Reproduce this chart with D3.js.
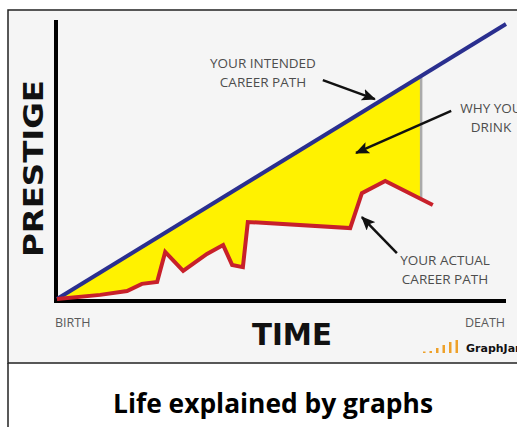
<!DOCTYPE html>
<html>
  <head>
    <title>life explained by graphs</title>
    <meta charset="utf-8">
    <script src="https://d3js.org/d3.v7.min.js"></script>
    <style type="text/css">
      body { margin: 0; background: #fff; }
      #chart text.note {
        fill: #4d4d4d;
        font: 13.5px "Open Sans", sans-serif;
        text-anchor: middle;
      }
      #chart text.tick {
        fill: #5a5a5a;
        font: 12.5px "Open Sans", sans-serif;
      }
    </style>
  </head>
  <body>
    <svg id="chart"></svg>
    <script>
      // time 0 = birth, 100 = death ; prestige 0..100
      var intendedTime = [0, 100];
      var intendedPrestige = [0, 100];
      var actualTime = [0, 9.6, 15.6, 18.9, 22.3, 24.1, 28.1, 33.4, 37.0, 39.0, 41.4, 42.5, 65.3, 67.9, 73.1, 83.7];
      var actualPrestige = [0, 1.5, 2.9, 5.5, 6.2, 17.1, 10.2, 16.4, 19.6, 12.4, 11.6, 28.0, 25.8, 38.5, 42.9, 34.2];
      var gapEnd = 81.1; // where the yellow "why you drink" area stops
      var axisLabels = ["BIRTH", "DEATH"];

      var width = 517, height = 427;
      var svg = d3.select("#chart").attr("width", width).attr("height", height);

      var x = d3.scaleLinear().domain([0, 100]).range([57, 506]);
      var y = d3.scaleLinear().domain([0, 100]).range([299, 24]);

      // picture frame + caption box
      svg.append("rect").attr("x", 8).attr("y", 10).attr("width", 520).attr("height", 353)
          .attr("fill", "#f5f5f5").attr("stroke", "#222").attr("stroke-width", 1.5);
      svg.append("line").attr("x1", 8).attr("x2", 8).attr("y1", 363).attr("y2", height)
          .attr("stroke", "#222").attr("stroke-width", 1.5);

      var intended = intendedTime.map(function(t, i) { return [t, intendedPrestige[i]]; });
      var actual = actualTime.map(function(t, i) { return [t, actualPrestige[i]]; });

      // yellow gap between plan and reality
      svg.append("clipPath").attr("id", "gapclip")
        .append("rect").attr("x", 0).attr("y", 0).attr("width", x(gapEnd)).attr("height", height);

      var area = d3.area()
          .x(function(d) { return x(d[0]); })
          .y0(function(d) { return y(d[1]); })
          .y1(function(d) { return y(d[0]); }); // intended line is prestige = time
      svg.append("path").datum(actual.concat([[100, actual[actual.length - 1][1]]]))
          .attr("d", area)
          .attr("clip-path", "url(#gapclip)")
          .attr("fill", "#fff200");

      svg.append("line")
          .attr("x1", x(gapEnd)).attr("x2", x(gapEnd))
          .attr("y1", y(gapEnd)).attr("y2", y(36))
          .attr("stroke", "#aaa").attr("stroke-width", 2.5);

      // axes
      svg.append("line").attr("x1", x(0) - 1).attr("x2", x(0) - 1).attr("y1", y(0) + 4).attr("y2", y(101.5))
          .attr("stroke", "#000").attr("stroke-width", 4);
      svg.append("line").attr("x1", x(0) - 3).attr("x2", x(100)).attr("y1", y(0) + 2).attr("y2", y(0) + 2)
          .attr("stroke", "#000").attr("stroke-width", 4);

      var line = d3.line().x(function(d) { return x(d[0]); }).y(function(d) { return y(d[1]); });

      svg.append("path").datum(intended).attr("d", line)
          .attr("fill", "none").attr("stroke", "#2a2f8f").attr("stroke-width", 4);
      svg.append("path").datum(actual).attr("d", line)
          .attr("fill", "none").attr("stroke", "#c8202a").attr("stroke-width", 4)
          .attr("stroke-linejoin", "miter");

      // arrows
      svg.append("defs").append("marker")
          .attr("id", "head").attr("markerUnits", "userSpaceOnUse")
          .attr("markerWidth", 16).attr("markerHeight", 12)
          .attr("refX", 13).attr("refY", 6).attr("orient", "auto")
        .append("path").attr("d", "M0,0L14,6L0,12L3,6z").attr("fill", "#111");

      var arrows = [
        [[59.2, 79.6], [70.8, 72.7]],
        [[87.8, 68.4], [66.6, 53.1]],
        [[75.7, 16.7], [67.9, 29.8]]
      ];
      svg.selectAll("line.arrow").data(arrows).enter().append("line")
          .attr("class", "arrow")
          .attr("x1", function(d) { return x(d[0][0]); })
          .attr("y1", function(d) { return y(d[0][1]); })
          .attr("x2", function(d) { return x(d[1][0]); })
          .attr("y2", function(d) { return y(d[1][1]); })
          .attr("stroke", "#111").attr("stroke-width", 2.5)
          .attr("marker-end", "url(#head)");

      // notes
      var notes = [
        { x: 263, y: 68, lines: ["YOUR INTENDED", "CAREER PATH"] },
        { x: 491, y: 113, lines: ["WHY YOU", "DRINK"] },
        { x: 445, y: 265, lines: ["YOUR ACTUAL", "CAREER PATH"] }
      ];
      notes.forEach(function(n) {
        var t = svg.append("text").attr("class", "note").attr("x", n.x).attr("y", n.y);
        n.lines.forEach(function(s, i) {
          t.append("tspan").attr("x", n.x).attr("dy", i ? 19 : 0).text(s);
        });
      });

      svg.append("text").attr("class", "tick").attr("x", 55).attr("y", 327).text(axisLabels[0]);
      svg.append("text").attr("class", "tick").attr("x", 505).attr("y", 327)
          .attr("text-anchor", "end").text(axisLabels[1]);

      svg.append("text").attr("x", 252).attr("y", 345)
          .attr("textLength", 80).attr("lengthAdjust", "spacingAndGlyphs")
          .style("font", "bold 30px 'DejaVu Sans', sans-serif").attr("fill", "#111").text("TIME");
      svg.append("text").attr("transform", "translate(43,257) rotate(-90)")
          .attr("textLength", 177).attr("lengthAdjust", "spacingAndGlyphs")
          .style("font", "bold 27px 'DejaVu Sans', sans-serif").attr("fill", "#111").text("PRESTIGE");

      // graphjam mark
      var logoBars = [1.5, 2, 5, 8, 11, 13];
      svg.selectAll("rect.logo").data(logoBars).enter().append("rect")
          .attr("class", "logo")
          .attr("x", function(d, i) { return 423 + i * 6.5; })
          .attr("y", function(d) { return 353 - d; })
          .attr("width", 2.5).attr("height", function(d) { return d; })
          .attr("fill", "#eea12a");
      svg.append("text").attr("x", 466).attr("y", 352)
          .style("font", "bold 11px 'DejaVu Sans', sans-serif").attr("fill", "#111").text("GraphJam");

      svg.append("text").attr("x", 273).attr("y", 413).attr("text-anchor", "middle")
          .attr("textLength", 320).attr("lengthAdjust", "spacingAndGlyphs")
          .style("font", "bold 26.5px 'Open Sans', sans-serif").attr("fill", "#000")
          .text("Life explained by graphs");
    </script>
  </body>
</html>
